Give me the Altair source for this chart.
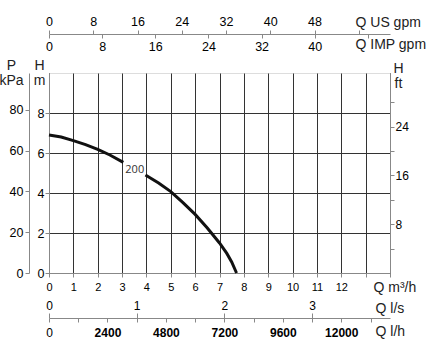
import altair as alt
import pandas as pd

# ---- data (Q in m3/h, H in m) ----
seg_a_q = [0, 0.5, 1, 1.5, 2, 2.5, 3.05]
seg_a_h = [6.9, 6.8, 6.62, 6.42, 6.18, 5.9, 5.53]
seg_b_q = [3.96, 4.5, 5, 5.5, 6, 6.5, 7, 7.3, 7.5, 7.7]
seg_b_h = [4.9, 4.5, 4.07, 3.52, 2.93, 2.25, 1.5, 0.98, 0.55, 0.0]
curve_label = ["200"]
label_q = [3.52]
label_h = [5.15]

# ---- axis tick values ----
m3h_ticks = list(range(0, 15))
h_m_ticks = [0, 2, 4, 6, 8]
p_kpa_ticks = [0, 20, 40, 60, 80]
h_ft_ticks = [4, 8, 12, 16, 20, 24, 28]
us_gpm_ticks = [0, 8, 16, 24, 32, 40, 48, 56]
imp_gpm_ticks = [0, 8, 16, 24, 32, 40, 48]
ls_ticks = [0, 1, 2, 3]
lh_ticks = list(range(0, 13201, 1200))

Q_MAX = 14
H_MAX = 10
M_TO_FT = 3.28084
M_TO_KPA = 9.80665
M3H_TO_USGPM = 4.40287
M3H_TO_IMPGPM = 3.66615
M3H_TO_LS = 1 / 3.6
M3H_TO_LH = 1000

FONT = "Liberation Sans"
TXT = "#222222"

curve_df = pd.DataFrame({
    "q": seg_a_q + seg_b_q,
    "h": seg_a_h + seg_b_h,
    "seg": ["a"] * len(seg_a_q) + ["b"] * len(seg_b_q),
})
label_df = pd.DataFrame({"q": label_q, "h": label_h, "t": curve_label})

xs = alt.Scale(domain=[0, Q_MAX], nice=False)
ys = alt.Scale(domain=[0, H_MAX], nice=False)

common = dict(labelFlush=False, labelOverlap=False, format="d", titleAngle=0,
              titleAlign="left", titleBaseline="alphabetic", titleFontSize=14,
              titleFontWeight="normal", titleFont=FONT, titleColor=TXT)

main = alt.Chart(curve_df).mark_line(color="#111111", strokeWidth=3).encode(
    x=alt.X("q:Q", scale=xs, axis=alt.Axis(
        orient="bottom", values=m3h_ticks,
        labelExpr="datum.value <= 12 ? datum.label : ''",
        grid=True, gridColor="#333333", gridWidth=1, tickSize=4, labelPadding=4,
        labelFontSize=11, title="Q m³/h", titleX=324, titleY=18, **common)),
    y=alt.Y("h:Q", scale=ys, axis=alt.Axis(
        orient="left", values=h_m_ticks, grid=True, gridColor="#333333", gridWidth=1,
        tickSize=4, labelPadding=1, labelFontSize=12.5,
        title=["H", "m"], titleX=-10, titleY=-4, titleLineHeight=15,
        **{**common, "titleAlign": "center"})),
    detail="seg:N",
)

label = alt.Chart(label_df).mark_text(font="Open Sans", fontSize=11, color="#333333").encode(
    x=alt.X("q:Q", scale=xs, axis=None),
    y=alt.Y("h:Q", scale=ys, axis=None),
    text="t:N",
)


def guide(xmax, ymax, xaxis=None, yaxis=None):
    df = pd.DataFrame({"gx": [0, xmax], "gy": [0, ymax]})
    return alt.Chart(df).mark_point(opacity=0).encode(
        x=alt.X("gx:Q", scale=alt.Scale(domain=[0, xmax], nice=False), axis=xaxis),
        y=alt.Y("gy:Q", scale=alt.Scale(domain=[0, ymax], nice=False), axis=yaxis),
    )


p_axis = guide(Q_MAX, H_MAX * M_TO_KPA, yaxis=alt.Axis(
    orient="left", offset=20, values=p_kpa_ticks, tickSize=4, labelPadding=2,
    labelFontSize=12.5, title=["P", "kPa"], titleX=-18, titleY=-4, titleLineHeight=15,
    **{**common, "titleAlign": "center"}))

ft_axis = guide(Q_MAX, H_MAX * M_TO_FT, yaxis=alt.Axis(
    orient="right", values=h_ft_ticks, tickSize=4, labelPadding=1, labelFontSize=12,
    labelExpr="datum.value % 8 == 0 ? datum.label : ''",
    title=["H", "ft"], titleX=8, titleY=-1, titleLineHeight=15,
    **{**common, "titleAlign": "center"}))

us_axis = guide(Q_MAX * M3H_TO_USGPM, H_MAX, xaxis=alt.Axis(
    orient="top", offset=39, values=us_gpm_ticks, tickSize=4, labelPadding=2,
    labelFontSize=12.5, labelExpr="datum.value <= 48 ? datum.label : ''",
    title="Q US gpm", titleX=306, titleY=-8, **common))

imp_axis = guide(Q_MAX * M3H_TO_IMPGPM, H_MAX, xaxis=alt.Axis(
    orient="bottom", offset=-239, values=imp_gpm_ticks, tickSize=4, labelPadding=2,
    domain=False, labelFontSize=12.5, labelExpr="datum.value <= 40 ? datum.label : ''",
    title="Q IMP gpm", titleX=306, titleY=14, **common))

ls_axis = guide(Q_MAX * M3H_TO_LS, H_MAX, xaxis=alt.Axis(
    orient="top", offset=-245, values=ls_ticks, tickSize=5, labelPadding=1,
    labelFontSize=12, title="Q l/s", titleX=326, titleY=-6, **common))

lh_axis = guide(Q_MAX * M3H_TO_LH, H_MAX, xaxis=alt.Axis(
    orient="bottom", offset=45, values=lh_ticks, tickSize=4, labelPadding=5,
    domain=False, labelFontSize=12,
    labelFontWeight={"condition": {"test": "datum.value == 0", "value": "normal"}, "value": "bold"},
    labelExpr="(datum.value % 2400 == 0 && datum.value <= 12000) ? datum.label : ''",
    title="Q l/h", titleX=326, titleY=17, **common))

chart = alt.layer(
    main, label, p_axis, ft_axis, us_axis, imp_axis, ls_axis, lh_axis
).resolve_scale(
    x="independent", y="independent"
).properties(
    width=341, height=200,
    padding={"left": 49, "top": 73, "right": 45, "bottom": 80},
    autosize=alt.AutoSizeParams(type="none"),
).configure_view(
    stroke="#222222", strokeWidth=1
).configure_axis(
    labelFont=FONT, titleFont=FONT, labelColor=TXT, titleColor=TXT,
    domainColor="#222222", tickColor="#222222", titleFontWeight="normal",
    grid=False, domainWidth=1, tickWidth=1,
).configure(background="white")

chart.save("out.html", embed_options={"renderer": "svg", "actions": False})
